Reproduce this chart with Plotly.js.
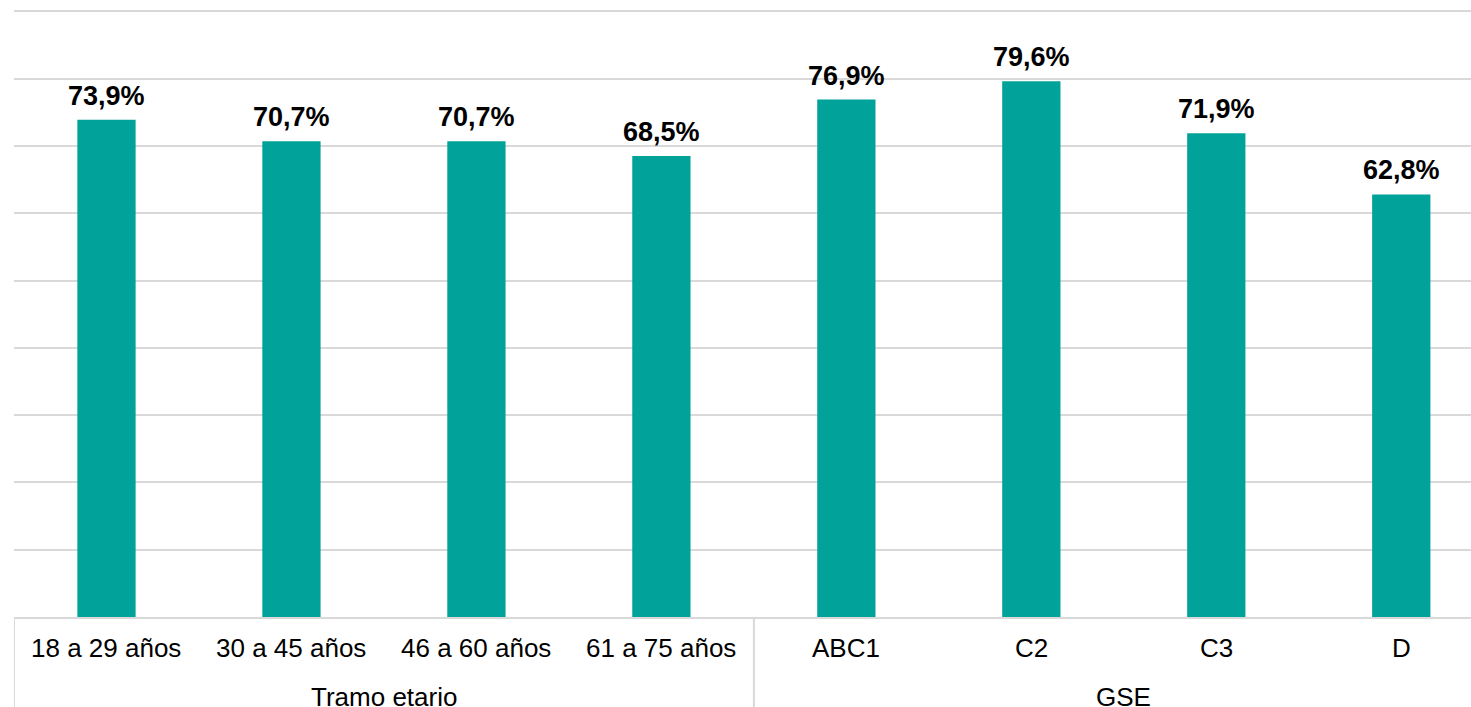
<!DOCTYPE html>
<html>
<head>
<meta charset="utf-8">
<script src="https://cdn.plot.ly/plotly-3.0.1.min.js"></script>
<style>html,body{margin:0;padding:0;background:#fff;}#chart{width:1471px;height:707px;}</style>
</head>
<body>
<div id="chart"></div>
<script>
var categories = ["18 a 29 años", "30 a 45 años", "46 a 60 años", "61 a 75 años", "ABC1", "C2", "C3", "D"];
var groups = ["Tramo etario", "GSE"];
var groupSizes = [4, 4];
var values = [73.9, 70.7, 70.7, 68.5, 76.9, 79.6, 71.9, 62.8];

var FONT = "Liberation Sans, Arial, sans-serif";
var xs = categories.map(function(_, i){ return i; });
var labels = values.map(function(v){ return v.toFixed(1).replace('.', ',') + '%'; });

var annotations = [];
// value labels
xs.forEach(function(x, i){
  annotations.push({x: x, y: values[i], xref: 'x', yref: 'y', text: '<b>' + labels[i] + '</b>',
    showarrow: false, yanchor: 'bottom', yshift: 7, font: {family: FONT, size: 27, color: '#000'}});
});
// category labels
xs.forEach(function(x, i){
  annotations.push({x: x, y: -0.051, xref: 'x', yref: 'paper', text: categories[i],
    showarrow: false, yanchor: 'middle', font: {family: FONT, size: 26, color: '#000'}});
});
// group labels and separators
var shapes = [];
var start = 0;
groups.forEach(function(g, gi){
  var s = start - 0.5, e = start + groupSizes[gi] - 0.5;
  annotations.push({x: (s + e) / 2, y: -0.131, xref: 'x', yref: 'paper', text: g,
    showarrow: false, yanchor: 'middle', font: {family: FONT, size: 26, color: '#000'}});
  shapes.push({type: 'line', xref: 'x', yref: 'paper', x0: s, x1: s, y0: 0, y1: -0.2,
    line: {color: '#d9d9d9', width: 2}});
  start += groupSizes[gi];
});

var trace = {
  type: 'bar', x: xs, y: values,
  marker: {color: '#00A29A'},
  width: 0.315,
  hoverinfo: 'skip'
};

var layout = {
  width: 1471, height: 707,
  margin: {l: 14, r: 0, t: 8, b: 90},
  paper_bgcolor: '#fff', plot_bgcolor: '#fff',
  showlegend: false,
  xaxis: {range: [-0.5, 7.377], showticklabels: false, ticks: '', showgrid: false, zeroline: false,
    showline: true, linecolor: '#d9d9d9', linewidth: 2},
  yaxis: {range: [0, 90.5], dtick: 10, showticklabels: false, ticks: '', showgrid: true,
    gridcolor: '#d9d9d9', gridwidth: 2, zeroline: false, showline: false},
  annotations: annotations,
  shapes: shapes,
  font: {family: FONT}
};

Plotly.newPlot('chart', [trace], layout, {displayModeBar: false, staticPlot: true});
</script>
</body>
</html>
